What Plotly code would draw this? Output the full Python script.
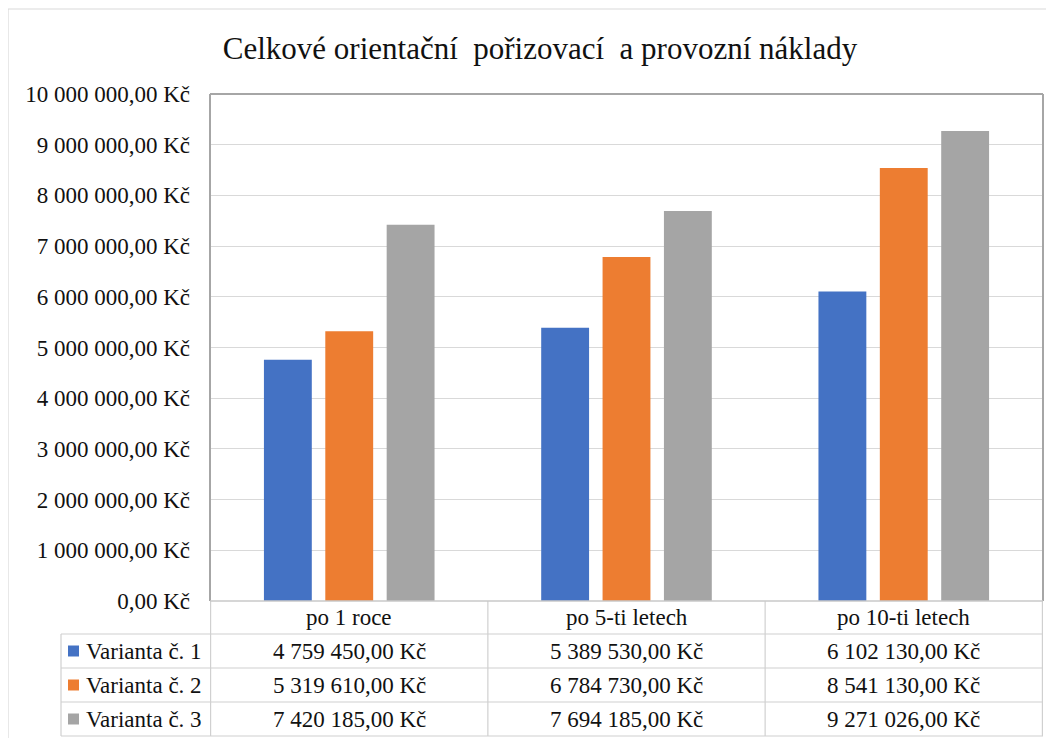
import plotly.graph_objects as go

categories = ["po 1 roce", "po 5-ti letech", "po 10-ti letech"]
series_names = ["Varianta č. 1", "Varianta č. 2", "Varianta č. 3"]
varianta_1 = [4759450.00, 5389530.00, 6102130.00]
varianta_2 = [5319610.00, 6784730.00, 8541130.00]
varianta_3 = [7420185.00, 7694185.00, 9271026.00]
colors = ["#4472C4", "#ED7D31", "#A5A5A5"]
title_text = "Celkové orientační\u00a0 pořizovací\u00a0 a provozní náklady"

series = [varianta_1, varianta_2, varianta_3]

OFF = 8  # page body margin
W, H = 1054 - OFF, 738 - OFF
L, R, T, B = 210, 1043, 94, 601  # reference pixel positions
FONT = "Times New Roman, Liberation Serif, DejaVu Serif, serif"
TXT = "#111111"
FS = 23


def px(xp):
    return (xp - L) / (R - L)


def py(yp):
    return (B - yp) / (B - T)


def fmt(v):
    s = f"{v:,.2f}"
    s = s.replace(",", " ").replace(".", ",")
    return s + " Kč"


fig = go.Figure()
for name, vals, c in zip(series_names, series, colors):
    fig.add_trace(go.Bar(x=categories, y=vals, name=name, marker_color=c,
                         marker_line_width=0, showlegend=False))

shapes = []
annotations = []

# outer chart border
shapes.append(dict(type="rect", xref="paper", yref="paper", x0=px(8), x1=px(1070),
                   y0=py(760), y1=py(9), line=dict(color="#D9D9D9", width=1.2), layer="below"))

# table lines
grid_c = "#D0D0D0"
row_lines = [634, 668, 702, 736]
for yl in row_lines:
    shapes.append(dict(type="line", xref="paper", yref="paper", x0=px(61), x1=px(R),
                       y0=py(yl), y1=py(yl), line=dict(color=grid_c, width=1.2)))
shapes.append(dict(type="line", xref="paper", yref="paper", x0=px(61), x1=px(61),
                   y0=py(634), y1=py(736), line=dict(color=grid_c, width=1.2)))
for i in range(len(categories) + 1):
    shapes.append(dict(type="line", xref="x", yref="paper", x0=i - 0.5, x1=i - 0.5,
                       y0=py(B), y1=py(736), line=dict(color=grid_c, width=1.2)))
# plot frame
frame_c = "#A6A6A6"
shapes.append(dict(type="line", xref="paper", yref="paper", x0=0, x1=0, y0=0, y1=1,
                   line=dict(color=frame_c, width=2)))
shapes.append(dict(type="line", xref="paper", yref="paper", x0=0, x1=1, y0=1, y1=1,
                   line=dict(color=frame_c, width=2)))
shapes.append(dict(type="line", xref="paper", yref="paper", x0=1, x1=1, y0=0, y1=1,
                   line=dict(color=frame_c, width=2)))
shapes.append(dict(type="line", xref="paper", yref="paper", x0=0, x1=1, y0=0, y1=0,
                   line=dict(color="#C8C8C8", width=1.5)))

for cat in categories:
    annotations.append(dict(x=cat, y=py(617), xref="x", yref="paper", text=cat,
                            showarrow=False, font=dict(family=FONT, size=FS, color=TXT),
                            xanchor="center", yanchor="middle"))

row_centers = [651, 685, 719]
for name, vals, c, yc in zip(series_names, series, colors, row_centers):
    shapes.append(dict(type="rect", xref="paper", yref="paper", x0=px(68), x1=px(79),
                       y0=py(yc + 5.5), y1=py(yc - 5.5), fillcolor=c, line=dict(width=0)))
    annotations.append(dict(x=px(84), y=py(yc), xref="paper", yref="paper", text=name,
                            showarrow=False, font=dict(family=FONT, size=FS, color=TXT),
                            xanchor="left", yanchor="middle"))
    for cat, v in zip(categories, vals):
        annotations.append(dict(x=cat, y=py(yc), xref="x", yref="paper", text=fmt(v),
                                showarrow=False, font=dict(family=FONT, size=FS, color=TXT),
                                xanchor="center", yanchor="middle"))

fig.update_layout(
    width=W, height=H,
    margin=dict(l=L - OFF, r=W - (R - OFF), t=T - OFF, b=H - (B - OFF), pad=0),
    paper_bgcolor="white", plot_bgcolor="white",
    separators=", ",
    barmode="group", bargap=0.336, bargroupgap=0.22,
    title=dict(text=title_text, x=(540 - OFF) / W, xanchor="center",
               y=1 - (48 - OFF) / H, yanchor="middle",
               font=dict(family=FONT, size=31, color=TXT)),
    xaxis=dict(showticklabels=False, showgrid=False, zeroline=False, showline=False,
               fixedrange=True),
    yaxis=dict(range=[0, 10000000], dtick=1000000, tickformat=",.2f", ticksuffix=" Kč",
               showgrid=True, gridcolor="#D9D9D9", gridwidth=1.2, zeroline=False,
               showline=False, ticks="", ticklabelstandoff=19,
               tickfont=dict(family=FONT, size=FS, color=TXT)),
    shapes=shapes, annotations=annotations,
)

fig.write_html("out.html")
